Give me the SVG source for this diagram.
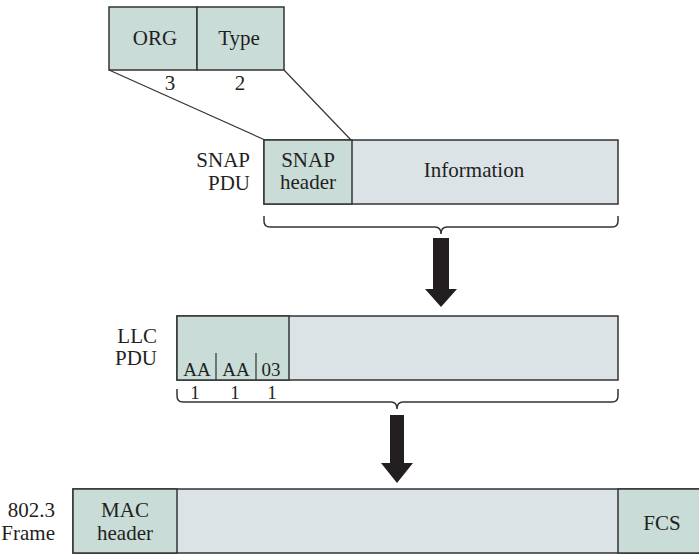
<svg xmlns="http://www.w3.org/2000/svg" width="699" height="556" viewBox="0 0 699 556">
<style>
text{font-family:'Liberation Serif','Times New Roman','DejaVu Serif',serif;font-size:21px;fill:#231f20}
.m{text-anchor:middle}
.e{text-anchor:end}
.s{font-size:19px}
.h{fill:#c9dcd8;stroke:#333;stroke-width:1.5}
.i{fill:#dbe3e6;stroke:#333;stroke-width:1.5}
.ln{fill:none;stroke:#333;stroke-width:1.2}
.br{fill:none;stroke:#333;stroke-width:1.5}
.ar{fill:#231f20}
</style>
<rect width="699" height="556" fill="#fff"/>
<g id="snap-detail">
<rect class="h" x="109" y="7" width="88" height="63"/>
<rect class="h" x="197" y="7" width="87" height="63"/>
<text class="m" x="155" y="45">ORG</text>
<text class="m" x="239" y="45">Type</text>
<text class="m" x="170" y="90">3</text>
<text class="m" x="240" y="90">2</text>
</g>
<g id="snap-pdu">
<rect class="i" x="264" y="140" width="354" height="64"/>
<rect class="h" x="264" y="140" width="88" height="64"/>
<text class="e" x="250" y="167">SNAP</text>
<text class="e" x="250" y="190">PDU</text>
<text class="m" x="308" y="167">SNAP</text>
<text class="m" x="308" y="189">header</text>
<text class="m" x="474" y="177">Information</text>
</g>
<g id="llc-pdu">
<rect class="i" x="177" y="316" width="441" height="64"/>
<rect class="h" x="177" y="316" width="112" height="64"/>
<line class="ln" x1="216" y1="353" x2="216" y2="380"/>
<line class="ln" x1="256" y1="353" x2="256" y2="380"/>
<text class="e" x="157" y="343">LLC</text>
<text class="e" x="157" y="365">PDU</text>
<text class="m s" x="197" y="376">AA</text>
<text class="m s" x="236" y="376">AA</text>
<text class="m s" x="271" y="376">03</text>
<text class="m s" x="195" y="399">1</text>
<text class="m s" x="235" y="399">1</text>
<text class="m s" x="272" y="399">1</text>
</g>
<g id="mac-frame">
<rect class="i" x="73" y="489" width="627" height="64"/>
<rect class="h" x="73" y="489" width="104" height="64"/>
<rect class="h" x="618" y="489" width="82" height="64"/>
<text class="e" x="55" y="517">802.3</text>
<text class="e" x="55" y="540">Frame</text>
<text class="m" x="125" y="517">MAC</text>
<text class="m" x="125" y="540">header</text>
<text class="m" x="662" y="530">FCS</text>
</g>
<g id="connectors">
<line class="ln" x1="109" y1="70" x2="265" y2="140"/>
<line class="ln" x1="284" y1="70" x2="351" y2="140"/>
<path class="br" d="M264,216 V221 Q264,227 270,227 H435 Q441,227 441,234 Q441,227 447,227 H612 Q618,227 618,221 V216"/>
<path class="br" d="M177,389 V396 Q177,402 183,402 H391 Q397,402 397,409 Q397,402 403,402 H612 Q618,402 618,396 V389"/>
<polygon class="ar" points="433,238 449,238 449,289 457,289 441,307 425,289 433,289"/>
<polygon class="ar" points="390,415 404,415 404,463 413,463 397,483 381,463 390,463"/>
</g>
</svg>
